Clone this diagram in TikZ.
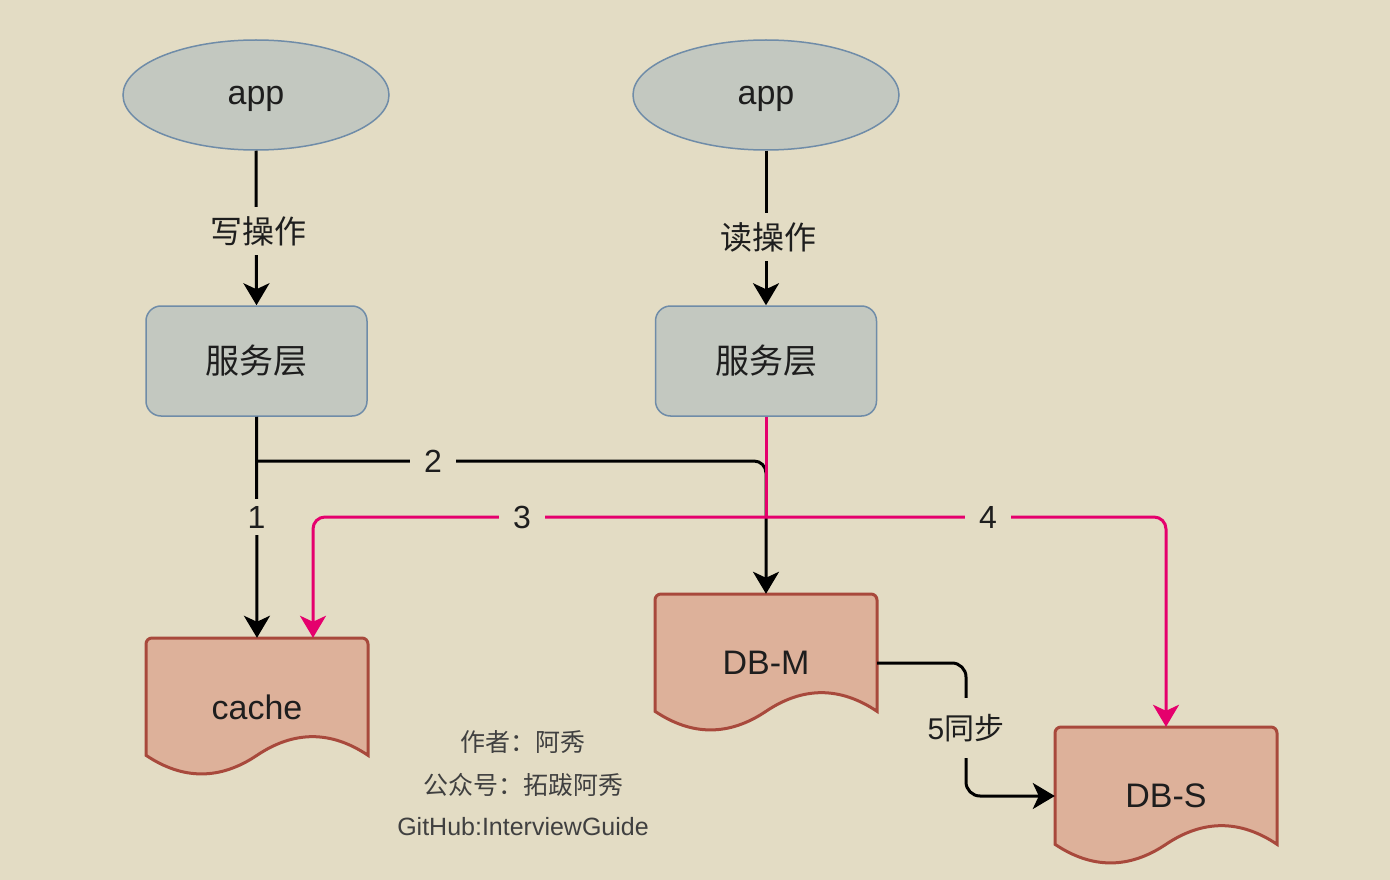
\documentclass[tikz,border=0pt]{standalone}
\usepackage{fontspec}
\setmainfont{Liberation Sans}
\newfontfamily\cjk{Noto Sans CJK SC}
\usetikzlibrary{shapes.geometric,arrows.meta,calc}
\definecolor{bg}{HTML}{E3DCC4}
\definecolor{grayfill}{HTML}{C3C8C0}
\definecolor{bluestroke}{HTML}{6F8CA8}
\definecolor{docfill}{HTML}{DDB19A}
\definecolor{docstroke}{HTML}{A8493C}
\definecolor{pinkline}{HTML}{E5006D}
\definecolor{txt}{HTML}{1E1E1E}
\newcommand\docnode[4]{%
  \begin{scope}[shift={(#1-111,#2-69)}]
    \filldraw[docline] (0,117.3) [rounded corners=6pt] -- (0,0) -- (222,0) [sharp corners] -- (222,117.3)
      .. controls (185,92.46) and (148,92.46) .. (111,117.3)
      .. controls (74,142.14) and (37,142.14) .. (0,117.3) -- cycle;
  \end{scope}
  \node[docbox] (#3) at (#1,#2) {#4};}
\begin{document}
\begin{tikzpicture}[x=1pt,y=-1pt,
  big/.style={font=\fontsize{34}{40}\selectfont, text=txt},
  appnode/.style={ellipse, draw=bluestroke, line width=1.5pt, fill=grayfill,
    minimum width=266pt, minimum height=110pt, inner sep=0pt, big,
    text height=27pt, text depth=7pt},
  svcbox/.style={rectangle, rounded corners=15pt, draw=bluestroke, line width=1.5pt,
    fill=grayfill, minimum width=221pt, minimum height=110pt, inner sep=0pt, big},
  docline/.style={draw=docstroke, fill=docfill, line width=3pt},
  docbox/.style={draw=none, minimum width=222pt, minimum height=138pt, inner sep=0pt, big},
  blk/.style={draw=black, line width=3pt},
  pnk/.style={draw=pinkline, line width=3pt},
  blkarrow/.style={blk, -{Stealth[length=22pt,width=26pt,inset=6pt]}},
  pnkarrow/.style={pnk, -{Stealth[length=22pt,width=26pt,inset=6pt]}},
  lbl/.style={fill=bg, inner xsep=14pt, inner ysep=9pt, font=\fontsize{32}{38}\selectfont, text=txt},
  foot/.style={font=\fontsize{25}{30}\selectfont, text=txt!85, inner sep=0pt}]
\fill[bg] (0,0) rectangle (1390,880);
\useasboundingbox (0,0) rectangle (1390,880);

% nodes
\node[appnode] (app1) at (256,95) {app};
\node[appnode] (app2) at (766,95) {app};
\node[svcbox] (svc1) at (256.5,361) {\cjk 服务层};
\node[svcbox] (svc2) at (766,361) {\cjk 服务层};
\docnode{257}{707}{cache}{cache}
\docnode{766}{663}{dbm}{DB-M}
\docnode{1166}{796}{dbs}{DB-S}

% coordinates
\coordinate (j2) at (256.5,461);
\coordinate (split) at (766,517);
\coordinate (mid5) at (966,728);

% black connectors
\draw[blkarrow] (app1.south) -- (svc1.north);
\draw[blkarrow] (app2.south) -- (svc2.north);
\draw[blkarrow] (svc1.south) -- (cache.north);
\draw[blkarrow, rounded corners=12pt] (j2) -| (dbm.north);
\draw[blkarrow, rounded corners=14pt] (dbm.east) -| (mid5) |- (dbs.west);

% pink connectors
\draw[pnk] (svc2.south) -- (split);
\draw[pnkarrow, rounded corners=12pt] (split) -| ($(cache.north)+(56,0)$);
\draw[pnkarrow, rounded corners=12pt] (split) -| (dbs.north);

% labels
\node[lbl] (l0a) at (258,231) {\cjk 写操作};
\node[lbl] (l0b) at (768,237) {\cjk 读操作};
\node[lbl, inner ysep=7pt] (l1) at (256.5,517) {1};
\node[lbl] (l2) at (433,461) {2};
\node[lbl] (l3) at (522,517) {3};
\node[lbl] (l4) at (988,517) {4};
\node[lbl, inner ysep=16pt, font=\fontsize{30}{36}\selectfont] (l5) at (mid5) {5\cjk 同步};

% footer
\node[foot] (f1) at (523,742) {\cjk 作者：阿秀};
\node[foot] (f2) at (523,785) {\cjk 公众号：拓跋阿秀};
\node[foot] (f3) at (523,827) {GitHub:InterviewGuide};
\end{tikzpicture}
\end{document}
